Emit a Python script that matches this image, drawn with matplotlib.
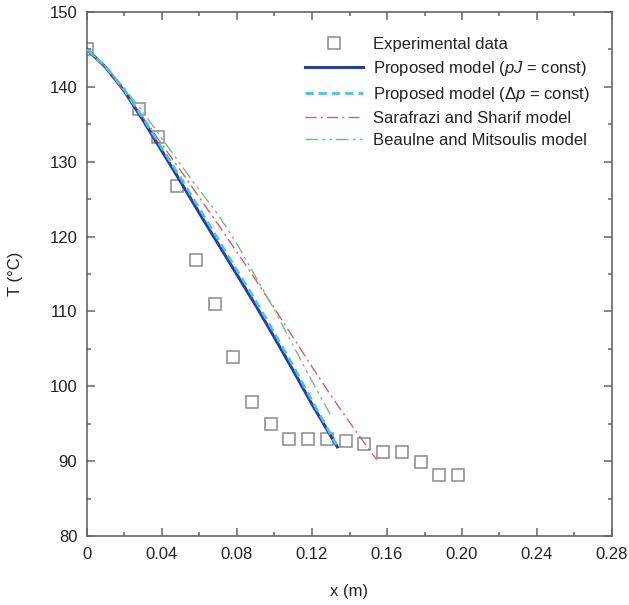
import numpy as np
import matplotlib
matplotlib.use("Agg")
import matplotlib.pyplot as plt
from matplotlib.ticker import MultipleLocator

plt.rcParams['font.family'] = ['Liberation Sans', 'DejaVu Sans']
plt.rcParams['mathtext.fontset'] = 'custom'
plt.rcParams['mathtext.rm'] = 'Liberation Sans'
plt.rcParams['mathtext.it'] = 'Liberation Sans:italic'
plt.rcParams['lines.scale_dashes'] = False

# experimental data
x_exp = [0.0, 0.028, 0.038, 0.048, 0.058, 0.068, 0.078, 0.088, 0.098, 0.108,
         0.118, 0.128, 0.138, 0.148, 0.158, 0.168, 0.178, 0.188, 0.198]
T_exp = [145.0, 137.1, 133.3, 126.7, 116.9, 111.0, 103.9, 97.9, 95.0, 93.0,
         92.9, 92.9, 92.7, 92.3, 91.2, 91.2, 89.9, 88.2, 88.1]

# proposed model (pJ = const)
x_pj = [0.0, 0.01, 0.02, 0.03, 0.04, 0.05, 0.06, 0.07, 0.08, 0.09, 0.10, 0.11, 0.12, 0.1335]
T_pj = [145.0, 142.6, 139.4, 135.5, 131.4, 127.3, 123.1, 119.0, 114.9, 110.8, 106.5, 102.1, 97.6, 91.9]

# proposed model (dp = const)
x_dp = [0.0, 0.01, 0.02, 0.03, 0.04, 0.05, 0.06, 0.07, 0.08, 0.09, 0.10, 0.11, 0.12, 0.133]
T_dp = [145.0, 142.7, 139.6, 135.8, 131.8, 127.8, 123.7, 119.6, 115.5, 111.4, 107.1, 102.7, 98.1, 92.2]

# Sarafrazi and Sharif
x_ss = [0.0, 0.01, 0.02, 0.03, 0.04, 0.05, 0.06, 0.07, 0.08, 0.09, 0.10, 0.11, 0.12, 0.13, 0.14, 0.15, 0.1545]
T_ss = [145.0, 142.6, 139.3, 135.9, 132.3, 128.8, 125.2, 121.6, 117.9, 114.2, 110.4, 106.5, 102.6, 98.8, 95.2, 91.7, 90.2]

# Beaulne and Mitsoulis
x_bm = [0.0, 0.01, 0.02, 0.03, 0.04, 0.05, 0.06, 0.07, 0.08, 0.09, 0.10, 0.11, 0.12, 0.1305]
T_bm = [145.0, 142.7, 139.8, 136.6, 133.1, 129.6, 126.2, 122.9, 119.0, 114.6, 110.2, 105.4, 100.7, 95.9]

fig = plt.figure(figsize=(6.29, 6.05), dpi=100)
ax = fig.add_axes([87 / 629, 1 - 536 / 605, (612 - 87) / 629, (536 - 12) / 605])

ax.plot(x_exp, T_exp, linestyle='none', marker='s', markersize=8.6,
        markerfacecolor='none', markeredgecolor='#8a8a8a', markeredgewidth=1.1,
        label='Experimental data', zorder=2)
ax.plot(x_pj, T_pj, color='#2b3c9b', lw=2.2, label='Proposed model ($pJ$ = const)', zorder=3)
ax.plot(x_dp, T_dp, color='#4cc3e6', lw=2.0, dashes=(6, 3.5),
        label='Proposed model (Δ$p$ = const)', zorder=4)
ax.plot(x_ss, T_ss, color='#e8575a', lw=1.0, dashes=(8, 3, 1.5, 3),
        label='Sarafrazi and Sharif model', zorder=3)
ax.plot(x_bm, T_bm, color='#6cc27c', lw=1.0, dashes=(9, 3, 2, 3, 2, 3),
        label='Beaulne and Mitsoulis model', zorder=3)

ax.set_xlim(0, 0.28)
ax.set_ylim(80, 150)
ax.xaxis.set_minor_locator(MultipleLocator(0.02))
ax.yaxis.set_major_locator(MultipleLocator(10))
ax.yaxis.set_minor_locator(MultipleLocator(5))
ax.set_xticks([0, 0.04, 0.08, 0.12, 0.16, 0.20, 0.24, 0.28])
ax.set_xticklabels(['0', '0.04', '0.08', '0.12', '0.16', '0.20', '0.24', '0.28'])

for s in ax.spines.values():
    s.set_color('#666666')
    s.set_linewidth(1.2)
ax.tick_params(which='both', direction='in', top=True, right=True,
               color='#666666', width=1.1, labelsize=12, labelcolor='#222222')
ax.tick_params(which='major', length=6)
ax.tick_params(which='minor', length=3)
ax.tick_params(axis='x', pad=8)
ax.tick_params(axis='y', pad=7)

ax.set_xlabel('x (m)', fontsize=12, color='#222222', labelpad=16)
ax.set_ylabel('T (°C)', fontsize=12, color='#222222', labelpad=19)

leg = ax.legend(loc='upper left', bbox_to_anchor=(305 / 629, 1 - 37 / 605),
                bbox_transform=fig.transFigure, frameon=False, fontsize=12,
                handlelength=3.5, handletextpad=0.6, labelspacing=0.42,
                borderpad=0, borderaxespad=0, numpoints=1)
for t in leg.get_texts():
    t.set_color('#222222')

fig.savefig('out.png', dpi=100)
